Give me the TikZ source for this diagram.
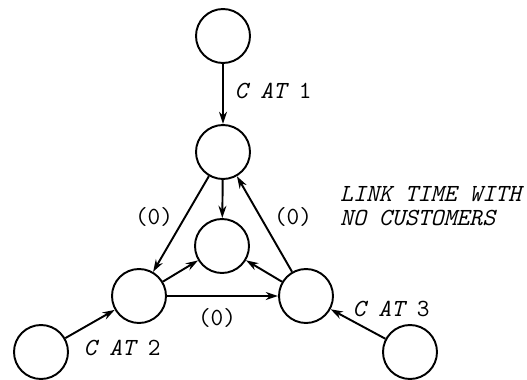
\documentclass[tikz,border=0pt]{standalone}
\usetikzlibrary{arrows.meta}

\begin{document}
\begin{tikzpicture}[x=0.02cm,y=-0.02cm,
    state/.style={circle,draw,line width=1.1pt,minimum size=1.08cm,inner sep=0pt},
    link/.style={-{Stealth[length=7pt,width=4.5pt]},line width=1.1pt},
    lbl/.style={font=\fontsize{14}{14}\selectfont\ttfamily}]
    \useasboundingbox (0,0) rectangle (527,379);
    % nodes
    \node[state] (src1) at (223,36) {};
    \node[state] (n1) at (223,152) {};
    \node[state] (mid) at (222,246) {};
    \node[state] (n2) at (139,296) {};
    \node[state] (n3) at (306,296) {};
    \node[state] (src2) at (41,352) {};
    \node[state] (src3) at (410,352) {};
    % links
    \draw[link] (src1) -- (n1);
    \draw[link] (src2) -- (n2);
    \draw[link] (src3) -- (n3);
    \draw[link] (n1) -- (n2);
    \draw[link] (n3) -- (n1);
    \draw[link] (n2) -- (n3);
    \draw[link] (n1) -- (mid);
    \draw[link] (n2) -- (mid);
    \draw[link] (n3) -- (mid);
    % labels
    \node[lbl] (c1) at (273,91) {{\itshape C AT} 1};
    \node[lbl] (c2) at (122,348) {{\itshape C AT} 2};
    \node[lbl] (c3) at (391,309) {{\itshape C AT} 3};
    \node[lbl] (z1) at (154,217) {(0)};
    \node[lbl] (z2) at (293,217) {(0)};
    \node[lbl] (z3) at (217,318) {(0)};
    \node[lbl,anchor=west,align=left,font=\fontsize{14}{14}\selectfont\ttfamily\itshape] (note) at (334,206) {LINK TIME WITH\\NO CUSTOMERS};
\end{tikzpicture}
\end{document}
